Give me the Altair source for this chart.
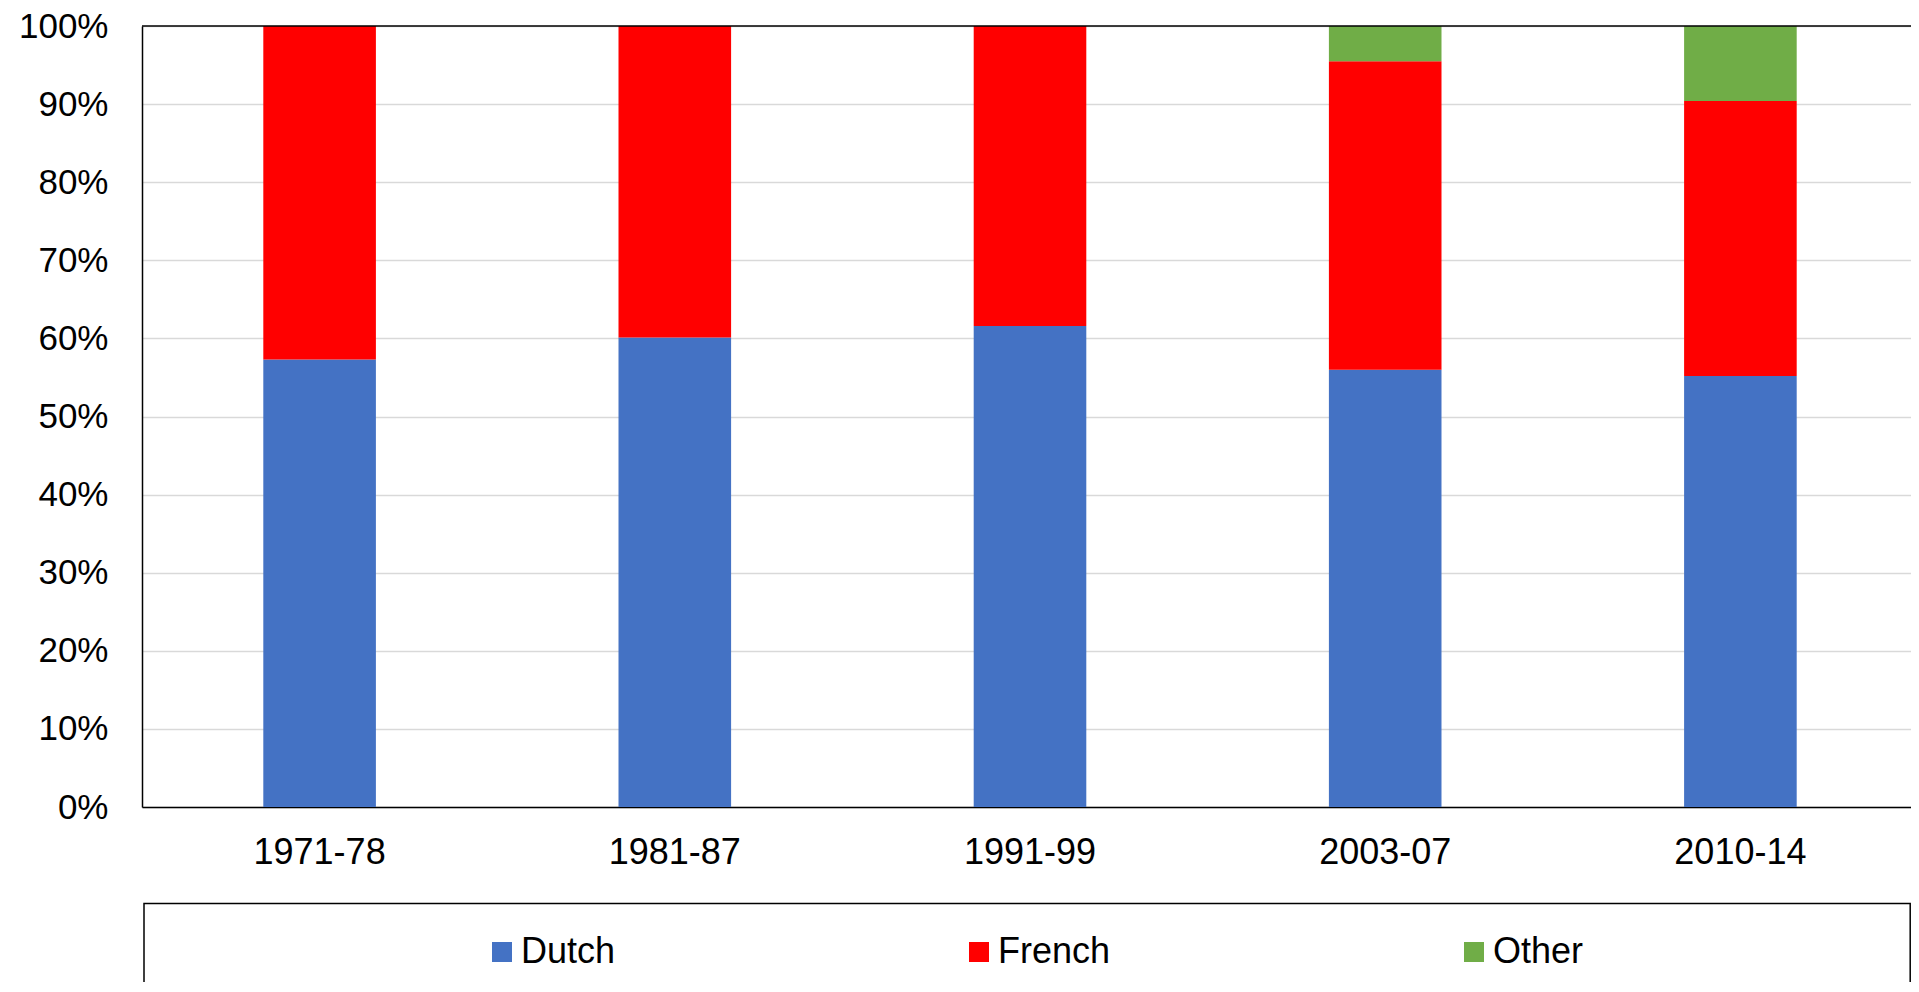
import altair as alt
import pandas as pd

periods = ["1971-78", "1981-87", "1991-99", "2003-07", "2010-14"]
groups = ["Dutch", "French", "Other"]
dutch = [57.3, 60.1, 61.6, 56.0, 55.2]
french = [42.7, 39.9, 38.4, 39.5, 35.2]
other = [0.0, 0.0, 0.0, 4.5, 9.6]
colors = ["#4472C4", "#FF0000", "#70AD47"]
y_ticks = [0, 10, 20, 30, 40, 50, 60, 70, 80, 90, 100]

rows = []
for i, p in enumerate(periods):
    for k, (g, series) in enumerate(zip(groups, [dutch, french, other])):
        rows.append({"period": p, "group": g, "value": series[i], "idx": k})
df = pd.DataFrame(rows)

FONT = "Liberation Sans"
FS = 36
W, H = 1769, 781
BAND_W = 1776

bars = alt.Chart(df).mark_bar().encode(
    x=alt.X(
        "period:N",
        sort=periods,
        scale=alt.Scale(paddingInner=0.683, paddingOuter=0.3415, range=[0, BAND_W]),
        axis=alt.Axis(
            title=None, labelAngle=0, ticks=False, labelPadding=28,
            labelFontSize=FS, labelFont=FONT, labelColor="black",
            domainColor="black", domainWidth=1.5, grid=False,
        ),
    ),
    y=alt.Y(
        "value:Q",
        stack="zero",
        scale=alt.Scale(domain=[0, 100], nice=False),
        axis=alt.Axis(
            title=None, values=y_ticks, labelExpr="datum.value + '%'",
            ticks=False, labelPadding=34, labelFontSize=35, labelFont=FONT,
            labelColor="black", domainColor="black", domainWidth=1.5,
            grid=True, gridColor="#d9d9d9", gridWidth=1.5,
        ),
    ),
    color=alt.Color(
        "group:N",
        scale=alt.Scale(domain=groups, range=colors),
        legend=alt.Legend(
            title=None, orient="none", legendX=342, legendY=908,
            direction="horizontal", columns=3, symbolType="square",
            symbolSize=400, symbolStrokeWidth=0, labelFontSize=FS,
            labelFont=FONT, labelColor="black", labelOffset=1,
            columnPadding=345, labelLimit=400, padding=0,
        ),
    ),
    order=alt.Order("idx:Q", sort="ascending"),
)

deco = alt.Data(values=[{"k": 1}])

top_line = alt.Chart(deco).mark_rule(color="black", strokeWidth=1.5).encode(
    x=alt.value(0), x2=alt.value(W), y=alt.value(0)
)

legend_box = alt.Chart(deco).mark_rect(
    fillOpacity=0, stroke="black", strokeWidth=1.5
).encode(
    x=alt.value(2), x2=alt.value(W - 0.8), y=alt.value(877.5), y2=alt.value(1000)
)

chart = alt.layer(bars, top_line, legend_box).properties(
    width=W, height=H,
    autosize=alt.AutoSizeParams(type="none"),
    padding={"left": 134, "top": 18, "right": 0, "bottom": 175},
).configure_view(stroke="#808080", strokeWidth=1).configure(background="white")

chart.save("out.html", embed_options={"renderer": "svg", "actions": False})
